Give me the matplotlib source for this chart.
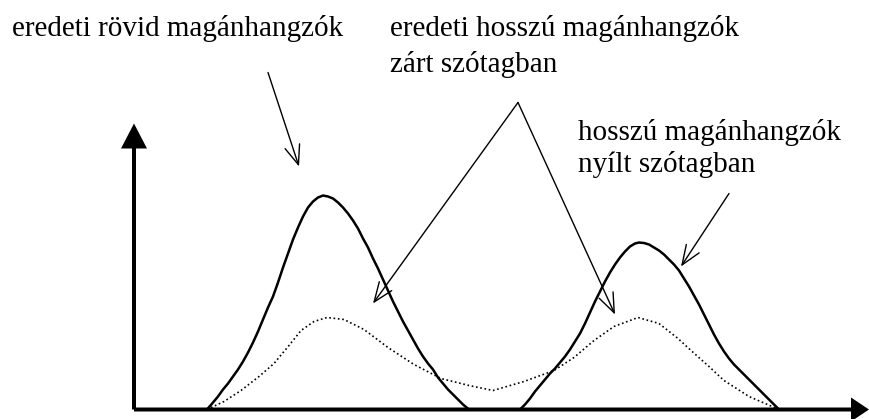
import matplotlib
matplotlib.use("Agg")
import matplotlib.pyplot as plt

# ---- data (schematic distribution curves; x/y in chart units, origin at axis corner) ----
# original short vowels (solid, left bump)
short_x = [73, 79, 84, 89, 94, 99, 104, 109, 114, 119, 124, 129, 134, 139,
           144, 149, 154, 159, 164, 169, 174, 179, 184, 189,
           194, 199, 204, 209, 214, 219, 224, 229, 234, 239, 244, 249, 254,
           259, 264, 269, 274, 279, 284, 289, 294, 299, 304, 309, 314, 319,
           324, 329, 335]
short_y = [0, 7, 13, 20, 26, 33, 40, 48, 57, 67, 78, 90, 102, 113,
           127, 142, 156, 170, 182, 193, 202, 208, 212, 214,
           213, 211, 207, 202, 196, 189, 181, 171, 162, 151, 141, 130, 119,
           108, 98, 88, 79, 70, 61, 53, 46, 40, 32, 26, 20, 15,
           10, 5, 0]

# long vowels in open syllable (solid, right bump)
long_x = [386, 391, 396, 401, 406, 411, 416, 421, 426, 431, 436, 441, 446,
          451, 456, 461, 466, 471, 476, 481, 486, 491, 496, 501, 505,
          510, 515, 520, 525, 530, 535, 540, 545, 550, 555, 560, 565, 570,
          575, 580, 585, 590, 595, 600, 605, 610, 615, 620, 625, 630, 635,
          640, 645]
long_y = [0, 5, 11, 18, 24, 30, 36, 41, 47, 53, 60, 68, 76,
          86, 97, 108, 118, 128, 137, 145, 152, 158, 163, 166, 167,
          166.5, 165, 162, 159, 155, 150, 145, 139, 131, 123, 114, 105, 95,
          85, 75, 66, 58, 51, 45, 40, 35, 30, 25, 20, 15, 10,
          5, 0]

# original long vowels in closed syllable (dotted)
closed_x = [73, 90, 107, 125, 140, 155, 167, 180, 193, 210, 230, 254, 280,
            307, 335, 359, 390, 420, 440, 460, 480, 504, 525, 544, 557, 575,
            590, 615, 645]
closed_y = [0, 8, 19, 33, 46, 64, 79, 88, 92, 90, 80, 62, 45,
            31, 24, 19, 28, 39, 52, 69, 83, 92, 86, 71, 59, 43,
            29, 13, 0]

labels = ["eredeti rövid magánhangzók",
          "eredeti hosszú magánhangzók", "zárt szótagban",
          "hosszú magánhangzók", "nyílt szótagban"]

W, H = 869, 419
fig = plt.figure(figsize=(W / 100, H / 100), dpi=100)
ox, oy = 134, 409.5  # axis corner in pixels
ax = fig.add_axes([ox / W, (H - oy) / H, (W - ox) / W, oy / H])
ax.set_xlim(0, W - ox)
ax.set_ylim(0, oy)
ax.axis("off")

serif = ["Liberation Serif", "DejaVu Serif"]

# axes with filled arrow heads
ax.arrow(0, 0, 0, 286, width=4, head_width=26, head_length=25,
         length_includes_head=True, color="black", clip_on=False, lw=0)
ax.arrow(0, 0, W - ox, 0, width=4, head_width=24, head_length=18,
         length_includes_head=True, color="black", clip_on=False, lw=0)

# curves
ax.plot(short_x, short_y, color="black", lw=1.8, solid_joinstyle="round",
        clip_on=False)
ax.plot(long_x, long_y, color="black", lw=1.8, solid_joinstyle="round",
        clip_on=False)
ax.plot(closed_x, closed_y, color="black", lw=1.2, ls=(0, (1, 1.6)),
        clip_on=False)

# label texts
fs = 21
kw = dict(fontsize=fs, family=serif, va="baseline", ha="left", clip_on=False)
ax.text(-122, 374, labels[0], **kw)
ax.text(256, 374, labels[1], **kw)
ax.text(256, 337, labels[2], **kw)
ax.text(444, 269, labels[3], **kw)
ax.text(444, 237, labels[4], **kw)

# pointer arrows
ap = dict(arrowstyle="->,head_length=1.4,head_width=0.55", lw=1.0,
          color="black", shrinkA=0, shrinkB=0, mutation_scale=10)
arrows = [((134, 337), (165, 243)),
          ((384, 307), (239, 106)),
          ((384, 307), (481, 95)),
          ((595, 216), (547, 143))]
for tail, tip in arrows:
    ax.annotate("", xy=tip, xytext=tail, arrowprops=ap, annotation_clip=False)

fig.savefig("out.png", dpi=100)
